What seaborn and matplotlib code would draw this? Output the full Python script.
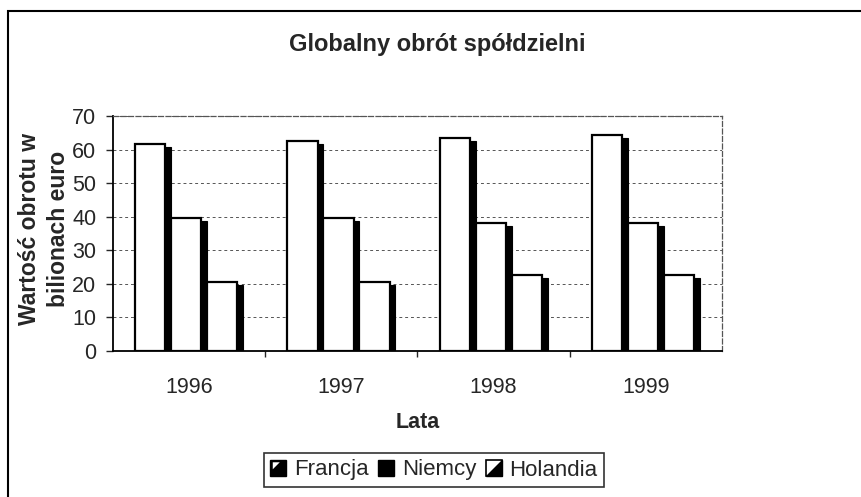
import matplotlib
matplotlib.use("Agg")
import matplotlib.pyplot as plt
import seaborn as sns
import pandas as pd
from matplotlib.patches import Rectangle, Polygon
from matplotlib.lines import Line2D
from matplotlib.legend_handler import HandlerBase

# dane
lata = ["1996", "1997", "1998", "1999"]
kraje = ["Francja", "Niemcy", "Holandia"]
francja = [61.7, 62.6, 63.4, 64.4]
niemcy = [39.6, 39.5, 38.0, 38.0]
holandia = [20.5, 20.6, 22.6, 22.6]
y_ticks = [0, 10, 20, 30, 40, 50, 60, 70]

df = pd.DataFrame({
    "Lata": lata * 3,
    "Kraj": [k for k in kraje for _ in lata],
    "Wartosc": francja + niemcy + holandia,
})

sns.set_style("white")
plt.rcParams["font.family"] = ["Liberation Sans", "DejaVu Sans"]

W, H = 862, 497
fig = plt.figure(figsize=(W / 100, H / 100), dpi=100)
ax = fig.add_axes([113 / W, 1 - 351 / H, (722 - 113) / W, (351 - 116) / H])

sns.barplot(data=df, x="Lata", y="Wartosc", hue="Kraj", hue_order=kraje,
            palette=["white"] * 3, saturation=1, edgecolor="black", linewidth=1.6,
            width=0.71, legend=False, ax=ax, zorder=3)

# cien po prawej stronie kazdego slupka
for cont in ax.containers:
    for bar in cont:
        x0 = bar.get_x()
        slot = bar.get_width()
        h = bar.get_height()
        face = slot * 0.84
        bar.set_width(face)
        ax.add_patch(Rectangle((x0 + face, 0), slot - face, h - 0.9,
                               facecolor="black", edgecolor="black", lw=0.8, zorder=2.8))

ax.set_ylim(0, 70)
ax.set_xlim(-0.5, 3.5)
ax.set_yticks(y_ticks)
ax.set_axisbelow(True)
ax.yaxis.grid(True, linestyle=(0, (3, 3)), color="#555555", linewidth=0.7)

for s in ["left", "bottom"]:
    ax.spines[s].set_color("black")
    ax.spines[s].set_linewidth(1.3)
for s in ["top", "right"]:
    ax.spines[s].set_color("#555555")
    ax.spines[s].set_linestyle((0, (4, 2)))
    ax.spines[s].set_linewidth(0.9)

ax.tick_params(axis="y", left=True, length=5, width=1, pad=7, labelsize=15.5)
ax.tick_params(axis="x", which="major", length=0, pad=19, labelsize=15.5)
ax.set_xticks([0.5, 1.5, 2.5], minor=True)
ax.tick_params(axis="x", which="minor", bottom=True, length=4, width=1)

ax.set_ylabel("Wartość obrotu w\nbilionach euro", fontsize=16.5, fontweight="bold",
              linespacing=1.35)
ax.yaxis.set_label_coords(-0.113, 0.52)
ax.yaxis.label.set_va("center")
ax.set_xlabel("Lata", fontsize=15.5, fontweight="bold")
ax.xaxis.set_label_coords(0.5, -0.305)
ax.xaxis.label.set_va("center")

fig.text(437 / W, 1 - 45 / H, "Globalny obrót spółdzielni", ha="center", va="center",
         fontsize=17, fontweight="bold")

# ramka calego wykresu (przycieta po prawej i na dole)
fig.add_artist(Rectangle((8 / W, -0.1), 1.2, 1 - 11 / H + 0.1, transform=fig.transFigure,
                         fill=False, edgecolor="black", lw=1.5))


class Ikona(HandlerBase):
    def __init__(self, styl):
        super().__init__()
        self.styl = styl

    def create_artists(self, legend, orig_handle, xdescent, ydescent, width, height,
                       fontsize, trans):
        s = min(width, height)
        x0 = -xdescent + (width - s) / 2
        y0 = -ydescent + (height - s) / 2
        out = []
        if self.styl == "niemcy":
            out.append(Rectangle((x0, y0), s, s, facecolor="black", edgecolor="black",
                                 lw=1, transform=trans))
        elif self.styl == "francja":
            out.append(Rectangle((x0, y0), s, s, facecolor="black", edgecolor="black",
                                 lw=1, transform=trans))
            out.append(Polygon([(x0 + s * 0.15, y0 + s * 0.85), (x0 + s * 0.6, y0 + s * 0.85),
                                (x0 + s * 0.15, y0 + s * 0.4)], closed=True,
                               facecolor="white", edgecolor="none", transform=trans))
        else:
            out.append(Rectangle((x0, y0), s, s, facecolor="white", edgecolor="black",
                                 lw=1.2, transform=trans))
            out.append(Polygon([(x0 + s, y0 + s), (x0 + s, y0), (x0, y0)], closed=True,
                               facecolor="black", edgecolor="black", lw=1, transform=trans))
        return out


uchwyty = [Line2D([], [], label=k) for k in kraje]
leg = fig.legend(handles=uchwyty, labels=kraje, loc="center", bbox_to_anchor=(434 / W, 1 - 470 / H),
                 ncol=3, fontsize=16, frameon=True, fancybox=False, edgecolor="black",
                 handlelength=0.7, handleheight=0.7, handletextpad=0.35, columnspacing=0.45,
                 borderpad=0.3, borderaxespad=0,
                 handler_map={uchwyty[0]: Ikona("francja"), uchwyty[1]: Ikona("niemcy"),
                              uchwyty[2]: Ikona("holandia")})
leg.get_frame().set_linewidth(1.2)

fig.savefig("out.png", dpi=100)
